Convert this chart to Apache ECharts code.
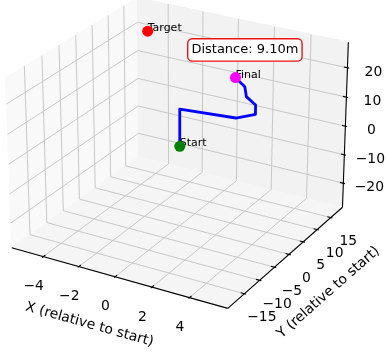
<!DOCTYPE html>
<html>
<head>
<meta charset="utf-8">
<script src="https://cdn.jsdelivr.net/npm/echarts@6/dist/echarts.min.js"></script>
<style>
  html, body { margin: 0; padding: 0; background: #fff; }
  #chart { width: 388px; height: 360px; }
</style>
</head>
<body>
<div id="chart"></div>
<script>
// box extents of the 3d axes and the ticks on them
const xLim = [-5.8, 6.0]
const yLim = [-20.3, 19.4]
const zLim = [-28.6, 28.6]
const xTicks = [-4, -2, 0, 2, 4]
const yTicks = [-15, -10, -5, 0, 5, 10, 15]
const zTicks = [-20, -10, 0, 10, 20]

// path of the robot (x, y relative to start)
const pathX = [0, 0, 2.8, 3.4, 3.4, 2.55, 2.46, 1.96, 1.58]
const pathY = [0, 0, 1.5, 4.3, 4.3, 6.5, 6.5, 7.8, 8.8]
const pathZ = [-1, 11.6, 11.6, 11.6, 14.7, 14.7, 17.9, 18, 18.1]
const targetPos = [-3.3, 8.7, 27.3]
const distanceText = 'Distance: 9.10m'

const W = 388
const H = 360
const FONT = 'DejaVu Sans'

// --- perspective camera ---
const deg = Math.PI / 180
const elev = 25 * deg
const azim = -60 * deg
const viewDist = 10
const aspect = [4, 4, 3]
const an = Math.hypot(...aspect)
const box = aspect.map(a => a * 1.8294640721620434 / an)
const ps = [Math.cos(elev) * Math.cos(azim), Math.cos(elev) * Math.sin(azim), Math.sin(elev)]
const eye = box.map((b, i) => b / 2 + viewDist * ps[i])
const cross = (a, b) => [a[1] * b[2] - a[2] * b[1], a[2] * b[0] - a[0] * b[2], a[0] * b[1] - a[1] * b[0]]
const unit = a => { const l = Math.hypot(...a); return a.map(c => c / l) }
const dot = (a, b) => a[0] * b[0] + a[1] * b[1] + a[2] * b[2]
const w = unit(ps)
const u = unit(cross([0, 0, 1], w))
const v = cross(w, u)
const lims = [xLim, yLim, zLim]

function project(p) {
  const d = p.map((c, i) => (c - lims[i][0]) / (lims[i][1] - lims[i][0]) * box[i] - eye[i])
  const depth = -dot(w, d)
  return [dot(u, d) / depth, dot(v, d) / depth]
}

const [x0, x1] = xLim
const [y0, y1] = yLim
const [z0, z1] = zLim

// where the box corners sit in the picture, used to scale the 2d axes
const anchors = [
  [[x1, y0, z0], [228, 308]],
  [[x0, y0, z0], [11.7, 247.3]],
  [[x1, y1, z0], [342, 208]],
  [[x1, y1, z1], [349, 43]],
  [[x0, y0, z1], [5, 77]]
]
const q = anchors.map(a => project(a[0]))
const mq = [0, 1].map(k => q.reduce((s, p) => s + p[k], 0) / q.length)
const mp = [0, 1].map(k => anchors.reduce((s, a) => s + a[1][k], 0) / q.length)
let num = 0
let den = 0
anchors.forEach((a, i) => {
  num += (a[1][0] - mp[0]) * (q[i][0] - mq[0]) - (a[1][1] - mp[1]) * (q[i][1] - mq[1])
  den += (q[i][0] - mq[0]) ** 2 + (q[i][1] - mq[1]) ** 2
})
const S = num / den
const cx = mp[0] - S * mq[0]
const cy = mp[1] + S * mq[1]

// --- panes ---
const panes = [
  [[x0, y0, z0], [x0, y1, z0], [x0, y1, z1], [x0, y0, z1]],
  [[x0, y1, z0], [x1, y1, z0], [x1, y1, z1], [x0, y1, z1]],
  [[x0, y0, z0], [x1, y0, z0], [x1, y1, z0], [x0, y1, z0]]
]
const paneColors = ['#f9f9f9', '#f2f2f2', '#f5f5f5']
const paneData = panes.map(p => [].concat(...p.map(project)))

// --- grid lines, axis lines, ticks ---
const segs = []
const addSeg = (a, b, kind) => segs.push([...project(a), ...project(b), kind])
xTicks.forEach(t => {
  addSeg([t, y0, z0], [t, y1, z0], 0)
  addSeg([t, y1, z0], [t, y1, z1], 0)
})
yTicks.forEach(t => {
  addSeg([x0, t, z0], [x1, t, z0], 0)
  addSeg([x0, t, z0], [x0, t, z1], 0)
})
zTicks.forEach(t => {
  addSeg([x0, y0, t], [x0, y1, t], 0)
  addSeg([x0, y1, t], [x1, y1, t], 0)
})
addSeg([x0, y0, z0], [x1, y0, z0], 1)
addSeg([x1, y0, z0], [x1, y1, z0], 1)
addSeg([x1, y1, z0], [x1, y1, z1], 1)
const dy = (y1 - y0) / 12.5
const dx = (x1 - x0) / 12.5
xTicks.forEach(t => addSeg([t, y0 + 0.2 * dy, z0], [t, y0 - 0.1 * dy, z0], 2))
yTicks.forEach(t => addSeg([x1 - 0.2 * dx, t, z0], [x1 + 0.1 * dx, t, z0], 2))
zTicks.forEach(t => addSeg([x1 - 0.2 * dx, y1, t], [x1 + 0.1 * dx, y1, t], 2))

// --- tick labels ---
const fmt = t => (t < 0 ? '\u2212' + Math.abs(t) : String(t))
const tickTexts = []
xTicks.forEach(t => tickTexts.push({ p: project([t, y0, z0]), text: fmt(t), off: [-9.5, 30] }))
yTicks.forEach(t => tickTexts.push({ p: project([x1, t, z0]), text: fmt(t), off: [17.5, 24] }))
zTicks.forEach(t => tickTexts.push({ p: project([x1, y1, t]), text: fmt(t), off: [26, 4.5] }))

const axisTitles = [
  { p: project([(x0 + x1) / 2, y0, z0]), text: 'X (relative to start)', off: [-27.4, 47.3], rot: -15.7 },
  { p: project([x1, (y0 + y1) / 2, z0]), text: 'Y (relative to start)', off: [40.7, 37], rot: 41.3 }
]

// --- marks ---
const pathData = pathX.map((x, i) => project([x, pathY[i], pathZ[i]]))
const last = pathX.length - 1
const pointMarks = [
  { name: 'Start', pos: [pathX[0], pathY[0], pathZ[0]], color: '#008000' },
  { name: 'Final', pos: [pathX[last], pathY[last], pathZ[last]], color: '#ff00ff' },
  { name: 'Target', pos: targetPos, color: '#ff0000' }
]

const textItem = (items, size) => (params, api) => {
  const it = items[params.dataIndex]
  const c = api.coord(it.p)
  return {
    type: 'text',
    x: c[0] + it.off[0],
    y: c[1] + it.off[1],
    rotation: (it.rot || 0) * deg,
    style: { x: 0, y: 0, text: it.text, fill: '#000', font: size + 'px "' + FONT + '"', align: 'center', verticalAlign: 'middle' }
  }
}

const chart = echarts.init(document.getElementById('chart'), null, { renderer: 'canvas' })
const option = {
  animation: false,
  grid: { left: 0, right: 0, top: 0, bottom: 0 },
  xAxis: { type: 'value', min: -cx / S, max: (W - cx) / S, show: false },
  yAxis: { type: 'value', min: (cy - H) / S, max: cy / S, show: false },
  series: [
    {
      type: 'custom',
      silent: true,
      z: 1,
      data: paneData,
      encode: { x: [0, 2, 4, 6], y: [1, 3, 5, 7] },
      renderItem: (params, api) => {
        const pts = [0, 1, 2, 3].map(k => api.coord([api.value(2 * k), api.value(2 * k + 1)]))
        const col = paneColors[params.dataIndex]
        return { type: 'polygon', shape: { points: pts }, style: { fill: col, stroke: col, lineWidth: 1 } }
      }
    },
    {
      type: 'custom',
      silent: true,
      z: 2,
      data: segs,
      encode: { x: [0, 2], y: [1, 3] },
      renderItem: (params, api) => {
        const a = api.coord([api.value(0), api.value(1)])
        const b = api.coord([api.value(2), api.value(3)])
        const kind = api.value(4)
        return {
          type: 'line',
          shape: { x1: a[0], y1: a[1], x2: b[0], y2: b[1] },
          style: kind === 0 ? { stroke: '#c8c8c8', lineWidth: 1 } : { stroke: '#000', lineWidth: 1.1 }
        }
      }
    },
    {
      type: 'custom',
      silent: true,
      z: 3,
      data: tickTexts.map(t => t.p),
      renderItem: textItem(tickTexts, 13.9)
    },
    {
      type: 'custom',
      silent: true,
      z: 3,
      data: axisTitles.map(t => t.p),
      renderItem: textItem(axisTitles, 13.9)
    },
    {
      type: 'line',
      z: 5,
      data: pathData,
      symbol: 'none',
      silent: true,
      lineStyle: { color: '#0000ff', width: 2.8, join: 'round', cap: 'square' }
    },
    {
      type: 'custom',
      silent: true,
      z: 6,
      data: pointMarks.map(m => project(m.pos)),
      renderItem: (params, api) => {
        const c = api.coord([api.value(0), api.value(1)])
        return {
          type: 'text',
          x: c[0],
          y: c[1] + 2.6,
          style: { x: 0, y: 0, text: pointMarks[params.dataIndex].name, fill: '#000', font: '11px "' + FONT + '"', align: 'left', verticalAlign: 'bottom' }
        }
      }
    },
    {
      type: 'scatter',
      z: 7,
      silent: true,
      symbolSize: 11,
      data: pointMarks.map(m => ({ value: project(m.pos), itemStyle: { color: m.color, opacity: 1 } }))
    }
  ],
  graphic: [
    {
      type: 'text',
      left: 187,
      top: 38,
      z: 10,
      style: {
        text: distanceText,
        font: '13px "' + FONT + '"',
        fill: '#000',
        backgroundColor: '#fff',
        borderColor: '#ee1111',
        borderWidth: 1.4,
        borderRadius: 4,
        padding: [3, 3, 3, 3],
        lineHeight: 15
      }
    }
  ]
}
chart.setOption(option)
</script>
</body>
</html>
